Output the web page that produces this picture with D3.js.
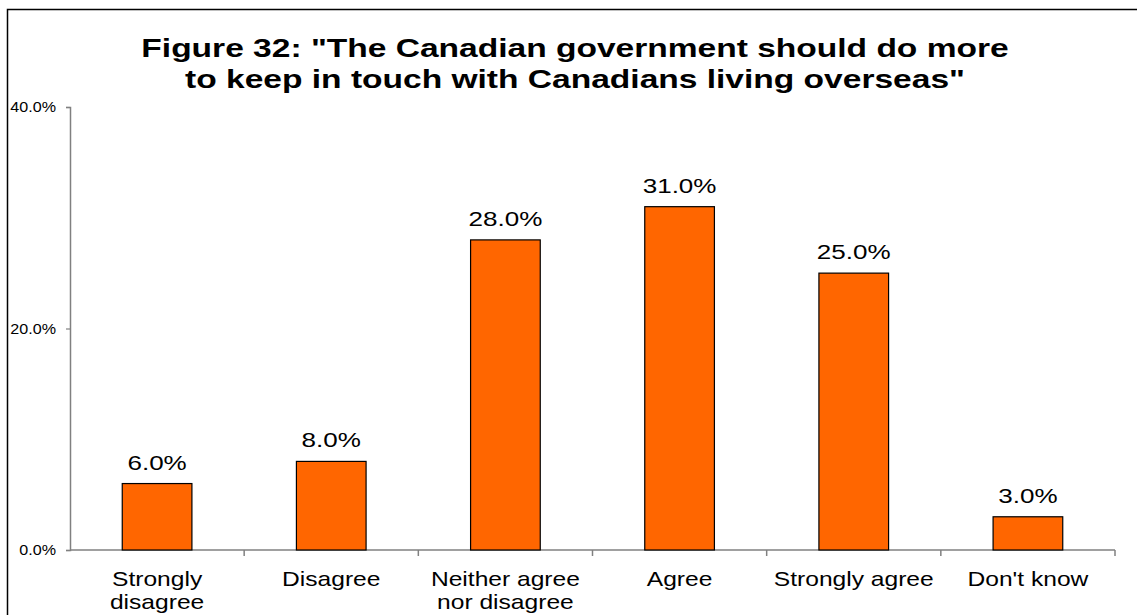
<!DOCTYPE html>
<html>
<head>
<meta charset="utf-8">
<script src="https://cdn.jsdelivr.net/npm/d3@7"></script>
<style>
  html, body { margin: 0; padding: 0; background: #fff; }
  svg { display: block; }
</style>
</head>
<body>
<svg id="chart" width="1137" height="615"></svg>
<script>
// Survey responses (% of respondents)
const categories = [
  ["Strongly", "disagree"],
  ["Disagree"],
  ["Neither agree", "nor disagree"],
  ["Agree"],
  ["Strongly agree"],
  ["Don't know"]
];
const values = [6.0, 8.0, 28.0, 31.0, 25.0, 3.0];
const yTicks = [0, 20, 40];
const titleLines = [
  "Figure 32: \"The Canadian government should do more",
  "to keep in touch with Canadians living overseas\""
];

(function draw() {
  const svg = d3.select("#chart");
  const font = "'Liberation Sans', Arial, sans-serif";

  // the chart's fonts are drawn slightly wide
  const titleStretch = 1.29, catStretch = 1.2, valStretch = 1.27, tickStretch = 1.15;

  // outer frame
  svg.append("path")
    .attr("d", "M7.5,640 L7.5,9.5 L1140,9.5")
    .attr("fill", "none").attr("stroke", "#000").attr("stroke-width", 1.5);

  const plotLeft = 70, plotRight = 1115, plotTop = 107, plotBottom = 550;

  const x = d3.scaleBand()
    .domain(d3.range(categories.length))
    .range([plotLeft, plotRight])
    .paddingInner(0.6).paddingOuter(0.3);

  const y = d3.scaleLinear().domain([0, 40]).range([plotBottom, plotTop]);

  // title
  svg.append("text")
    .attr("transform", `translate(575,57) scale(${titleStretch},1)`)
    .attr("text-anchor", "middle")
    .attr("font-family", font).attr("font-weight", "bold").attr("font-size", 26)
    .selectAll("tspan").data(titleLines).join("tspan")
    .attr("x", 0).attr("dy", (d, i) => i ? 31 : 0)
    .text(d => d);

  // y axis
  const yAxis = svg.append("g")
    .attr("transform", `translate(${plotLeft},0)`)
    .call(d3.axisLeft(y).tickValues(yTicks).tickSize(4).tickPadding(0).tickFormat(""));
  yAxis.select(".domain").attr("stroke", "#808080").attr("stroke-width", 1.5);
  yAxis.selectAll(".tick line").attr("stroke", "#808080").attr("stroke-width", 1.2);
  yAxis.selectAll(".tick").append("text")
    .attr("transform", `translate(-14,0) scale(${tickStretch},1)`)
    .attr("dy", "0.35em")
    .attr("text-anchor", "end")
    .attr("font-family", font).attr("font-size", 14).attr("fill", "#000")
    .text(d => d.toFixed(1) + "%");

  // x axis with ticks at category boundaries
  const xBound = d3.scaleLinear().domain([0, categories.length]).range([plotLeft, plotRight]);
  const xAxisG = svg.append("g");
  xAxisG.append("line")
    .attr("x1", plotLeft).attr("x2", plotRight).attr("y1", plotBottom).attr("y2", plotBottom)
    .attr("stroke", "#808080").attr("stroke-width", 1.5);
  xAxisG.selectAll("line.tk").data(d3.range(1, categories.length + 1)).join("line")
    .attr("class", "tk")
    .attr("x1", d => xBound(d)).attr("x2", d => xBound(d))
    .attr("y1", plotBottom).attr("y2", plotBottom + 6)
    .attr("stroke", "#808080").attr("stroke-width", 1.5);

  // category labels
  svg.append("g").selectAll("text").data(categories).join("text")
    .attr("transform", (d, i) => `translate(${x(i) + x.bandwidth() / 2},586) scale(${catStretch},1)`)
    .attr("text-anchor", "middle")
    .attr("font-family", font).attr("font-size", 20.5).attr("fill", "#000")
    .each(function(d) {
      d3.select(this).selectAll("tspan").data(d).join("tspan")
        .attr("x", 0)
        .attr("dy", (t, j) => j ? 23 : 0)
        .text(t => t);
    });

  // bars
  svg.append("g").selectAll("rect").data(values).join("rect")
    .attr("x", (d, i) => x(i))
    .attr("y", d => y(d))
    .attr("width", x.bandwidth())
    .attr("height", d => y(0) - y(d))
    .attr("fill", "#FF6600").attr("stroke", "#000").attr("stroke-width", 1.2);

  // value labels
  svg.append("g").selectAll("text").data(values).join("text")
    .attr("transform", (d, i) => `translate(${x(i) + x.bandwidth() / 2},${y(d) - 14}) scale(${valStretch},1)`)
    .attr("text-anchor", "middle")
    .attr("font-family", font).attr("font-size", 20.5).attr("fill", "#000")
    .text(d => d.toFixed(1) + "%");
})();
</script>
</body>
</html>
